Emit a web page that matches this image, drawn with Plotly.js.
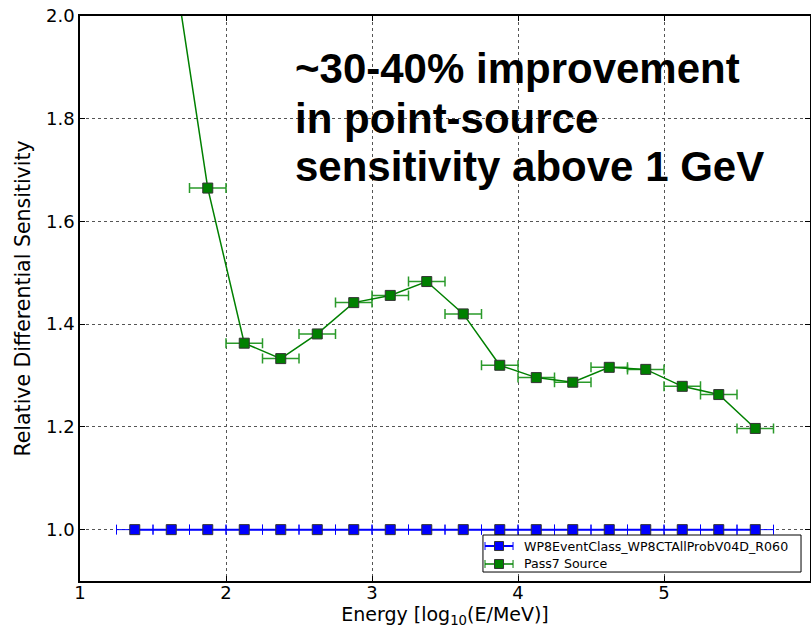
<!DOCTYPE html>
<html><head><meta charset="utf-8">
<script src="https://cdn.plot.ly/plotly-3.0.1.min.js"></script>
<style>body{margin:0;padding:0;background:#fff}#chart{width:811px;height:630px}</style>
</head><body><div id="chart"></div>
<script>
const energyBins = [1.375,1.625,1.875,2.125,2.375,2.625,2.875,3.125,3.375,3.625,3.875,4.125,4.375,4.625,4.875,5.125,5.375,5.625];
const binHalfWidth = [0.125,0.125,0.125,0.125,0.125,0.125,0.125,0.125,0.125,0.125,0.125,0.125,0.125,0.125,0.125,0.125,0.125,0.125];
const wp8Values = [1,1,1,1,1,1,1,1,1,1,1,1,1,1,1,1,1,1];
const pass7Energy = [1.625,1.875,2.125,2.375,2.625,2.875,3.125,3.375,3.625,3.875,4.125,4.375,4.625,4.875,5.125,5.375,5.625];
const pass7HalfWidth = [0.125,0.125,0.125,0.125,0.125,0.125,0.125,0.125,0.125,0.125,0.125,0.125,0.125,0.125,0.125,0.125,0.125];
const pass7Values = [2.133,1.665,1.363,1.333,1.381,1.442,1.456,1.483,1.420,1.320,1.296,1.287,1.316,1.312,1.279,1.263,1.197];
const seriesNames = ['WP8EventClass_WP8CTAllProbV04D_R060', 'Pass7 Source'];
const seriesColors = ['#0000ff', '#008000'];
const noteLines = ['~30-40% improvement', 'in point-source', 'sensitivity above 1 GeV'];

const traces = [
  {x: energyBins, y: wp8Values, type:'scatter', mode:'lines+markers',
   name: seriesNames[0], showlegend:false,
   line:{color: seriesColors[0], width:2},
   marker:{symbol:'square', size:10, color: seriesColors[0], line:{color:'#333', width:1}},
   error_x:{type:'data', array: binHalfWidth, visible:true, color: seriesColors[0], thickness:1, width:5}},
  {x: pass7Energy, y: pass7Values, type:'scatter', mode:'lines+markers',
   name: seriesNames[1], showlegend:false,
   line:{color: seriesColors[1], width:1.5},
   marker:{symbol:'square', size:10, color: seriesColors[1], line:{color:'#333', width:1}},
   error_x:{type:'data', array: pass7HalfWidth, visible:true, color:'#2a9a2a', thickness:1.5, width:5}}
];

const axisCommon = {showline:true, mirror:'ticks', linecolor:'#000', linewidth:1.5,
  ticks:'inside', ticklen:5, tickcolor:'#000', showgrid:true, gridcolor:'#555', griddash:'dot', gridwidth:1,
  zeroline:false, tickfont:{family:'DejaVu Sans', size:18, color:'#000'}};

// Hand-drawn legend box (matplotlib style, compact)
const legX0 = 0.552, legX1 = 0.9877, legY0 = 0.0159, legY1 = 0.0814;
const legRowY = [0.0619, 0.0301];
const legLineX0 = 0.5548, legLineX1 = 0.5932, legMarkX = 0.5740, legTextX = 0.6055;
const shapes = [{type:'rect', xref:'paper', yref:'paper', x0:legX0, x1:legX1, y0:legY0, y1:legY1,
  fillcolor:'#fff', line:{color:'#000', width:1}, layer:'above'}];
const annotations = [];
seriesNames.forEach((nm, i) => {
  const c = seriesColors[i], yy = legRowY[i];
  shapes.push({type:'line', xref:'paper', yref:'paper', x0:legLineX0, x1:legLineX1, y0:yy, y1:yy,
    line:{color:c, width:i===0?2:1.5}, layer:'above'});
  [legLineX0, legLineX1].forEach(xc => shapes.push({type:'line', xref:'paper', yref:'paper',
    xsizemode:'pixel', ysizemode:'pixel', xanchor:xc, yanchor:yy, x0:0, x1:0, y0:-4, y1:4,
    line:{color:c, width:1}, layer:'above'}));
  shapes.push({type:'rect', xref:'paper', yref:'paper', xsizemode:'pixel', ysizemode:'pixel',
    xanchor:legMarkX, yanchor:yy, x0:-4.5, x1:4.5, y0:-4.5, y1:4.5,
    fillcolor:c, line:{color:'#333', width:1}, layer:'above'});
  annotations.push({xref:'paper', yref:'paper', x:legTextX, y:yy, xanchor:'left', yanchor:'middle',
    showarrow:false, text:nm, font:{family:'DejaVu Sans', size:12.6, color:'#000'}});
});
const noteY = [0.907, 0.8186, 0.7336];
noteLines.forEach((t, i) => annotations.push({xref:'paper', yref:'paper', x:0.292, y:noteY[i],
  xanchor:'left', yanchor:'middle', showarrow:false, text:t,
  font:{family:'Liberation Sans', size:42, color:'#000', weight:'bold'}}));

const layout = {
  width:811, height:630,
  margin:{l:80, r:1, t:16, b:49},
  paper_bgcolor:'#fff', plot_bgcolor:'#fff',
  showlegend:false,
  xaxis: Object.assign({}, axisCommon, {range:[1,6], dtick:1, tick0:1, ticklabelstandoff:-5,
    title:{text:'Energy [log<sub>10</sub>(E/MeV)]', font:{family:'DejaVu Sans', size:19, color:'#000'}, standoff:2}}),
  yaxis: Object.assign({}, axisCommon, {range:[0.9,2.0], dtick:0.2, tick0:1.0, tickformat:'.1f',
    title:{text:'Relative Differential Sensitivity', font:{family:'DejaVu Sans', size:20.5, color:'#000'}, standoff:10}}),
  shapes: shapes,
  annotations: annotations
};
Plotly.newPlot('chart', traces, layout, {displayModeBar:false});
</script></body></html>
